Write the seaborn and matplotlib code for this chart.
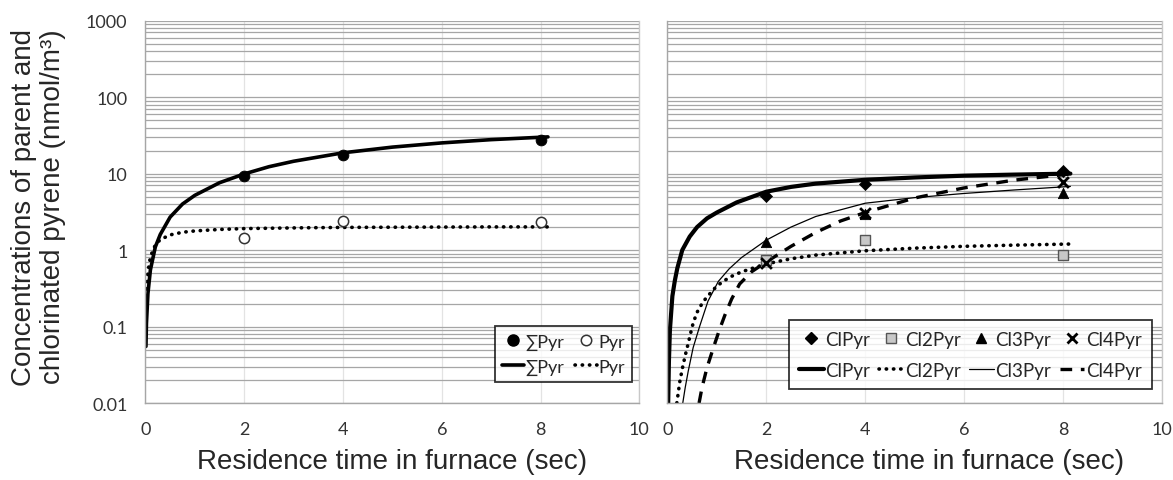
import numpy as np, pandas as pd
import matplotlib
matplotlib.use('Agg')
import matplotlib.pyplot as plt
import seaborn as sns
from matplotlib.lines import Line2D
from matplotlib.ticker import LogLocator, NullFormatter, FuncFormatter

# measured concentrations (nmol/m3) at residence time 2, 4, 8 s
time_pts = [2, 4, 8]
sum_pyr = [9.4, 17.6, 27.3]
pyr = [1.42, 2.41, 2.34]
cl_pyr = [5.1, 7.4, 10.8]
cl2_pyr = [0.75, 1.34, 0.86]
cl3_pyr = [1.28, 3.0, 5.6]
cl4_pyr = [0.68, 3.1, 7.7]

# fitted curves
fit_t_left = [0.01, 0.02, 0.05, 0.1, 0.2, 0.3, 0.5, 0.75, 1, 1.5, 2, 2.5, 3, 4, 5, 6, 7, 8.15]
sum_pyr_fit = [0.055, 0.11, 0.27, 0.55, 1.1, 1.6, 2.7, 4.0, 5.2, 7.6, 9.9, 12.3, 14.5, 18.7, 22.2, 25.2, 27.8, 30.2]
pyr_fit = [0.13, 0.24, 0.51, 0.82, 1.17, 1.37, 1.58, 1.71, 1.78, 1.86, 1.91, 1.93, 1.95, 1.98, 1.99, 2.0, 2.01, 2.01]

cl_t = [0.015, 0.03, 0.05, 0.1, 0.15, 0.2, 0.3, 0.45, 0.6, 0.8, 1.0, 1.4, 2, 2.5, 3, 4, 5, 6, 7, 8.15]
cl_fit = [0.01, 0.035, 0.09, 0.25, 0.4, 0.58, 1.0, 1.5, 2.0, 2.6, 3.1, 4.2, 5.8, 6.7, 7.4, 8.3, 8.9, 9.4, 9.7, 10.0]
cl2_t = [0.19, 0.25, 0.3, 0.36, 0.42, 0.5, 0.59, 0.7, 0.79, 1.0, 1.25, 1.5, 2, 2.5, 3, 4, 5, 6, 7, 8.15]
cl2_fit = [0.01, 0.019, 0.028, 0.042, 0.06, 0.1, 0.15, 0.2, 0.24, 0.34, 0.44, 0.52, 0.66, 0.77, 0.86, 0.98, 1.06, 1.12, 1.16, 1.2]
cl3_t = [0.31, 0.36, 0.42, 0.52, 0.65, 0.82, 1.03, 1.25, 1.5, 2, 2.5, 3, 4, 5, 6, 7, 8.15]
cl3_fit = [0.01, 0.016, 0.026, 0.053, 0.1, 0.215, 0.39, 0.57, 0.8, 1.35, 2.0, 2.75, 4.1, 4.85, 5.5, 6.1, 6.8]
cl4_t = [0.64, 0.7, 0.8, 0.93, 1.05, 1.16, 1.3, 1.46, 1.7, 2, 2.5, 3, 3.5, 4, 5, 6, 7, 8.15]
cl4_fit = [0.01, 0.016, 0.029, 0.053, 0.09, 0.14, 0.23, 0.36, 0.52, 0.7, 1.12, 1.7, 2.4, 3.1, 4.8, 6.5, 8.2, 9.9]

sns.set_theme(style='white')
plt.rcParams['font.family'] = ['Lato', 'DejaVu Sans']

fig = plt.figure(figsize=(11.73, 4.81), dpi=100)
axL = fig.add_axes([0.124, 0.160, 0.421, 0.795])
axR = fig.add_axes([0.569, 0.160, 0.4215, 0.795])

GRID = '#a6a6a6'
DOT = (0, (0.1, 1.9))

def style_axis(ax, show_ylabels):
    ax.set_yscale('log')
    ax.set_ylim(0.01, 1000)
    ax.set_xlim(0, 10)
    ax.set_xticks(range(0, 11, 2))
    ax.yaxis.set_major_locator(LogLocator(base=10, numticks=10))
    ax.yaxis.set_minor_locator(LogLocator(base=10, subs=range(2, 10), numticks=20))
    ax.yaxis.set_minor_formatter(NullFormatter())
    if show_ylabels:
        ax.yaxis.set_major_formatter(FuncFormatter(lambda v, p: f'{v:g}'))
    else:
        ax.set_yticklabels([])
    ax.grid(True, axis='y', which='both', color=GRID, lw=0.9)
    ax.grid(True, axis='x', which='major', color='#e3e3e3', lw=0.9)
    ax.tick_params(axis='both', which='both', length=0, labelsize=13, colors='#333333')
    ax.tick_params(axis='x', pad=13)
    ax.tick_params(axis='y', pad=13)
    ax.spines['top'].set_visible(False)
    for s in ['left', 'bottom']:
        ax.spines[s].set_color('#a6a6a6'); ax.spines[s].set_linewidth(1.0)
    ax.spines['right'].set_color('#c8c8c8'); ax.spines['right'].set_linewidth(1.0)
    ax.set_axisbelow(True)
    ax.set_xlabel('Residence time in furnace (sec)', family=['Liberation Sans'], fontsize=20)
    ax.set_ylabel('')

# ---------- left panel: parent pyrene ----------
sns.lineplot(x=fit_t_left, y=sum_pyr_fit, ax=axL, color='black', lw=2.6, estimator=None, sort=False)
sns.lineplot(x=fit_t_left, y=pyr_fit, ax=axL, color='black', lw=2.6, linestyle=DOT,
             dash_capstyle='round', estimator=None, sort=False)
sns.scatterplot(x=time_pts, y=sum_pyr, ax=axL, color='black', marker='o', s=60, edgecolor='black', zorder=5)
sns.scatterplot(x=time_pts, y=pyr, ax=axL, facecolor='white', marker='o', s=55, edgecolor='#333333',
                linewidth=1.1, zorder=5)
style_axis(axL, True)
axL.xaxis.set_label_coords(0.5, -0.118)
axL.set_ylabel('Concentrations of parent and\nchlorinated pyrene (nmol/m³)', family=['Liberation Sans'],
               fontsize=20, ha='center', va='center', linespacing=1.15)
axL.yaxis.set_label_coords(-0.216, 0.515)

hL = [Line2D([], [], marker='o', color='black', ls='none', markersize=8),
      Line2D([], [], color='black', lw=2.6),
      Line2D([], [], marker='o', color='#333333', mfc='white', ls='none', markersize=7.5, mew=1.1),
      Line2D([], [], color='black', lw=2.6, ls=DOT, dash_capstyle='round')]
legL = axL.legend(hL, ['∑Pyr', '∑Pyr', 'Pyr', 'Pyr'], ncol=2, loc='lower right',
                  bbox_to_anchor=(0.986, 0.055), fontsize=13, frameon=True, fancybox=False,
                  handlelength=1.2, handletextpad=0.1, columnspacing=0.6, labelspacing=0.5,
                  borderpad=0.4, borderaxespad=0)
legL.get_frame().set_edgecolor('black'); legL.get_frame().set_linewidth(1.3)

# ---------- right panel: chlorinated pyrenes ----------
sns.lineplot(x=cl_t, y=cl_fit, ax=axR, color='black', lw=3.0, estimator=None, sort=False)
sns.lineplot(x=cl2_t, y=cl2_fit, ax=axR, color='black', lw=2.6, linestyle=DOT,
             dash_capstyle='round', estimator=None, sort=False)
sns.lineplot(x=cl3_t, y=cl3_fit, ax=axR, color='black', lw=0.9, estimator=None, sort=False)
sns.lineplot(x=cl4_t, y=cl4_fit, ax=axR, color='black', lw=2.4, linestyle=(0, (3.5, 2.6)),
             estimator=None, sort=False)
sns.scatterplot(x=time_pts, y=cl_pyr, ax=axR, color='black', marker='D', s=38, edgecolor='black', zorder=5)
sns.scatterplot(x=time_pts, y=cl2_pyr, ax=axR, color='#c8c8c8', marker='s', s=60, edgecolor='#555555',
                linewidth=1.0, zorder=5)
sns.scatterplot(x=time_pts, y=cl3_pyr, ax=axR, color='black', marker='^', s=55, edgecolor='black', zorder=5)
sns.scatterplot(x=time_pts, y=cl4_pyr, ax=axR, color='black', marker='x', s=60, linewidth=2.0, zorder=6)
style_axis(axR, False)
axR.xaxis.set_label_coords(0.53, -0.118)

hR = [Line2D([], [], marker='D', color='black', ls='none', markersize=6),
      Line2D([], [], color='black', lw=3.0),
      Line2D([], [], marker='s', color='#555555', mfc='#c8c8c8', ls='none', markersize=7.5, mew=1.0),
      Line2D([], [], color='black', lw=2.6, ls=DOT, dash_capstyle='round'),
      Line2D([], [], marker='^', color='black', ls='none', markersize=7.5),
      Line2D([], [], color='black', lw=0.9),
      Line2D([], [], marker='x', color='black', ls='none', markersize=7.5, mew=2.0),
      Line2D([], [], color='black', lw=2.4, ls=(0, (3.5, 2.6)))]
legR = axR.legend(hR, ['ClPyr', 'ClPyr', 'Cl2Pyr', 'Cl2Pyr', 'Cl3Pyr', 'Cl3Pyr', 'Cl4Pyr', 'Cl4Pyr'],
                  ncol=4, loc='lower right', bbox_to_anchor=(0.98, 0.037), fontsize=13.5,
                  frameon=True, fancybox=False, handlelength=1.3, handletextpad=0.1,
                  columnspacing=0.45, labelspacing=0.75, borderpad=0.55, borderaxespad=0)
legR.get_frame().set_edgecolor('black'); legR.get_frame().set_linewidth(1.3)

fig.savefig('out.png', dpi=100, facecolor='white')
